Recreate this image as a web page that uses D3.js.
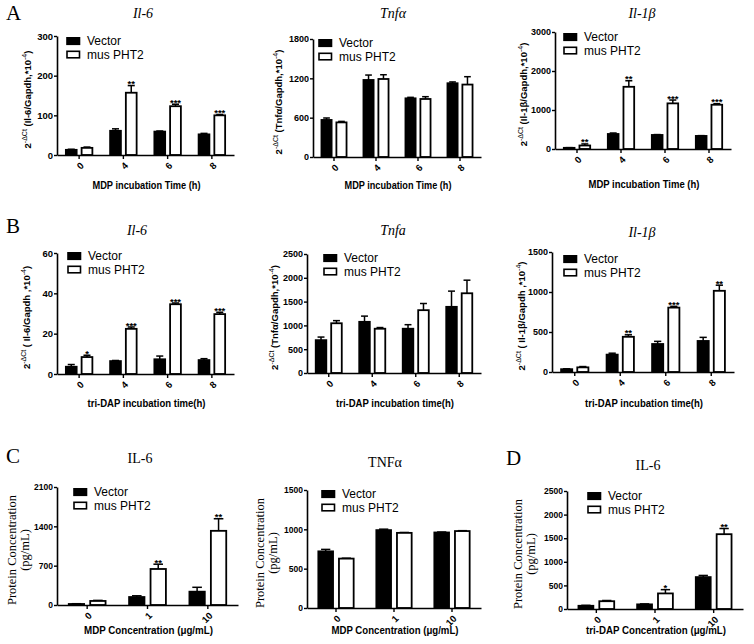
<!DOCTYPE html>
<html><head><meta charset="utf-8">
<script src="https://cdn.jsdelivr.net/npm/d3@7/dist/d3.min.js"></script>
<style>body{margin:0;background:#fff}</style>
</head><body><svg id="c" width="754" height="644" xmlns="http://www.w3.org/2000/svg"></svg>
<script>
// ---------- DATA ----------
const timeGroups = ["0", "4", "6", "8"];
const concGroups = ["0", "1", "10"];
const seriesNames = ["Vector", "mus PHT2"];

// Panel A: MDP incubation time (qPCR)
const aIl6Vector = [13, 61, 59, 52];
const aIl6VectorErr = [1.5, 5, 1.5, 2.5];
const aIl6Pht2 = [18, 157, 123, 100];
const aIl6Pht2Err = [2, 18, 5, 2];
const aIl6Sig = ["", "**", "***", "***"];

const aTnfVector = [565, 1175, 895, 1125];
const aTnfVectorErr = [30, 75, 15, 20];
const aTnfPht2 = [528, 1190, 885, 1105];
const aTnfPht2Err = [15, 65, 35, 120];
const aTnfSig = ["", "", "", ""];

const aIl1bVector = [30, 385, 360, 335];
const aIl1bVectorErr = [5, 25, 10, 8];
const aIl1bPht2 = [90, 1595, 1170, 1135];
const aIl1bPht2Err = [40, 155, 85, 25];
const aIl1bSig = ["**", "**", "***", "***"];

// Panel B: tri-DAP incubation time (qPCR)
const bIl6Vector = [3.6, 6.4, 7.3, 6.9];
const bIl6VectorErr = [1.1, 0.3, 1.6, 0.7];
const bIl6Pht2 = [8.4, 22.4, 34.6, 29.7];
const bIl6Pht2Err = [0.9, 0.9, 0.6, 0.9];
const bIl6Sig = ["*", "***", "***", "***"];

const bTnfVector = [690, 1075, 930, 1390];
const bTnfVectorErr = [65, 120, 85, 330];
const bTnfPht2 = [1045, 930, 1320, 1675];
const bTnfPht2Err = [55, 25, 140, 275];
const bTnfSig = ["", "", "", ""];

const bIl1bVector = [35, 217, 350, 388];
const bIl1bVectorErr = [5, 18, 33, 45];
const bIl1bPht2 = [58, 440, 805, 1015];
const bIl1bPht2Err = [10, 25, 15, 70];
const bIl1bSig = ["", "**", "***", "**"];

// Panel C: MDP concentration (protein)
const cIl6Vector = [18, 142, 237];
const cIl6VectorErr = [5, 22, 78];
const cIl6Pht2 = [72, 641, 1320];
const cIl6Pht2Err = [10, 85, 215];
const cIl6Sig = ["", "**", "**"];

const cTnfVector = [720, 990, 960];
const cTnfVectorErr = [25, 12, 6];
const cTnfPht2 = [628, 955, 978];
const cTnfPht2Err = [5, 5, 5];
const cTnfSig = ["", "", ""];

// Panel D: tri-DAP concentration (protein)
const dIl6Vector = [68, 98, 676];
const dIl6VectorErr = [10, 10, 35];
const dIl6Pht2 = [165, 330, 1585];
const dIl6Pht2Err = [15, 80, 120];
const dIl6Sig = ["", "*", "**"];

// Axis tick values
const ticksAIl6 = [0, 100, 200, 300];
const ticksATnf = [0, 600, 1200, 1800];
const ticksAIl1b = [0, 1000, 2000, 3000];
const ticksBIl6 = [0, 20, 40, 60];
const ticksBTnf = [0, 500, 1000, 1500, 2000, 2500];
const ticksBIl1b = [0, 500, 1000, 1500];
const ticksCIl6 = [0, 700, 1400, 2100];
const ticksCTnf = [0, 500, 1000, 1500];
const ticksDIl6 = [0, 500, 1000, 1500, 2000, 2500];

// ---------- DRAW ----------
const NARROW = "'Liberation Sans Narrow','Arial Narrow','Liberation Sans',Arial,sans-serif";
const SANS = "'Liberation Sans',Arial,sans-serif";
const SERIF = "'Liberation Serif','Times New Roman',serif";
const svg = d3.select("#c");
svg.append("rect").attr("width", 754).attr("height", 644).attr("fill", "#fff");

function qpcrLabel(inner) {
  return [["2", 0], ["-\u0394Ct", 1], [" (" + inner + ",*10", 0], ["-4", 1], [")", 0]];
}

const panels = [
  {letter: "A", lx: 6, ly: 20, title: "Il-6", italic: true, tx: 143, ty: 18,
   x0: 57, x1: 234, yTop: 36, yBot: 155, ticks: ticksAIl6, groups: timeGroups, tickFs: 9.5,
   v: aIl6Vector, ve: aIl6VectorErr, w: aIl6Pht2, we: aIl6Pht2Err, sig: aIl6Sig,
   ylab: qpcrLabel("Il-6/Gapdh"), ylx: 31, xt: "MDP incubation Time (h)", xtY: 189, xtW: 108, legX: 66, legY: 37},
  {title: "Tnf\u03b1", italic: true, tx: 393, ty: 18,
   x0: 313, x1: 481, yTop: 39, yBot: 157, ticks: ticksATnf, groups: timeGroups, tickFs: 9,
   v: aTnfVector, ve: aTnfVectorErr, w: aTnfPht2, we: aTnfPht2Err, sig: aTnfSig,
   ylab: qpcrLabel("Tnf\u03b1/Gapdh"), ylx: 282, xt: "MDP incubation Time (h)", xtY: 189, xtW: 107, legX: 318, legY: 39},
  {title: "Il-1\u03b2", italic: true, tx: 642, ty: 18,
   x0: 555, x1: 731, yTop: 32, yBot: 149, ticks: ticksAIl1b, groups: timeGroups, tickFs: 9,
   v: aIl1bVector, ve: aIl1bVectorErr, w: aIl1bPht2, we: aIl1bPht2Err, sig: aIl1bSig,
   ylab: qpcrLabel("Il-1\u03b2/Gapdh"), ylx: 527, xt: "MDP incubation Time (h)", xtY: 188, xtW: 111, legX: 563, legY: 33},

  {letter: "B", lx: 6, ly: 233, title: "Il-6", italic: true, tx: 137, ty: 235,
   x0: 57, x1: 234, yTop: 253, yBot: 374, ticks: ticksBIl6, groups: timeGroups, tickFs: 9.5,
   v: bIl6Vector, ve: bIl6VectorErr, w: bIl6Pht2, we: bIl6Pht2Err, sig: bIl6Sig,
   ylab: qpcrLabel(" Il-6/Gapdh "), ylx: 30, xt: "tri-DAP incubation time(h)", xtY: 407, xtW: 118, legX: 67, legY: 252},
  {title: "Tnfa", italic: true, tx: 393, ty: 235,
   x0: 307, x1: 481, yTop: 254, yBot: 373, ticks: ticksBTnf, groups: timeGroups, tickFs: 9,
   v: bTnfVector, ve: bTnfVectorErr, w: bTnfPht2, we: bTnfPht2Err, sig: bTnfSig,
   ylab: qpcrLabel("Tnf\u03b1/Gapdh"), ylx: 278, xt: "tri-DAP incubation time(h)", xtY: 407, xtW: 118, legX: 323, legY: 254},
  {title: "Il-1\u03b2", italic: true, tx: 642, ty: 237,
   x0: 552, x1: 734, yTop: 252, yBot: 372, ticks: ticksBIl1b, groups: timeGroups, tickFs: 9,
   v: bIl1bVector, ve: bIl1bVectorErr, w: bIl1bPht2, we: bIl1bPht2Err, sig: bIl1bSig,
   ylab: qpcrLabel(" Il-1\u03b2/Gapdh "), ylx: 525, xt: "tri-DAP incubation time(h)", xtY: 407, xtW: 118, legX: 563, legY: 255},

  {letter: "C", lx: 6, ly: 463, title: "IL-6", italic: false, tx: 140, ty: 463,
   x0: 57, x1: 238, yTop: 487, yBot: 605, ticks: ticksCIl6, groups: concGroups, tickFs: 8.5,
   v: cIl6Vector, ve: cIl6VectorErr, w: cIl6Pht2, we: cIl6Pht2Err, sig: cIl6Sig,
   protein: [12, 25], xt: "MDP Concentration (\u03bcg/mL)", xtY: 634, xtW: 129, legX: 73, legY: 488},
  {title: "TNF\u03b1", italic: false, tx: 385, ty: 467,
   x0: 307, x1: 481, yTop: 490, yBot: 608, ticks: ticksCTnf, groups: concGroups, tickFs: 8.5,
   v: cTnfVector, ve: cTnfVectorErr, w: cTnfPht2, we: cTnfPht2Err, sig: cTnfSig,
   protein: [260, 273], xt: "MDP Concentration (\u03bcg/mL)", xtY: 634, xtW: 127, legX: 321, legY: 490},
  {letter: "D", lx: 506, ly: 465, title: "IL-6", italic: false, tx: 648, ty: 470,
   x0: 567, x1: 743, yTop: 491, yBot: 609, ticks: ticksDIl6, groups: concGroups, tickFs: 8.5,
   v: dIl6Vector, ve: dIl6VectorErr, w: dIl6Pht2, we: dIl6Pht2Err, sig: dIl6Sig,
   protein: [518, 531], xt: "tri-DAP Concentration (\u03bcg/mL)", xtY: 634, xtW: 140, legX: 587, legY: 492}
];

function drawPanel(p) {
  const g = svg.append("g");
  const y = d3.scaleLinear().domain([0, d3.max(p.ticks)]).range([p.yBot, p.yTop]);
  const x = d3.scaleBand().domain(p.groups).range([p.x0, p.x1]).paddingInner(0.36).paddingOuter(0.18);
  const xs = d3.scaleBand().domain(seriesNames).range([0, x.bandwidth()]).paddingInner(0.2);

  if (p.letter) g.append("text").attr("x", p.lx).attr("y", p.ly).attr("font-family", SERIF)
    .attr("font-size", 21).text(p.letter);
  g.append("text").attr("x", p.tx).attr("y", p.ty).attr("text-anchor", "middle")
    .attr("font-family", SERIF).attr("font-size", 14).attr("font-style", p.italic ? "italic" : "normal")
    .text(p.title);

  const rows = p.groups.map((grp, i) => ({grp, vals: [
    {s: seriesNames[0], v: p.v[i], e: p.ve[i], sig: ""},
    {s: seriesNames[1], v: p.w[i], e: p.we[i], sig: p.sig[i]}]}));
  const gg = g.selectAll("g.grp").data(rows).join("g")
    .attr("transform", d => `translate(${x(d.grp)},0)`);
  const bw = xs.bandwidth();
  gg.selectAll("line.eb").data(d => d.vals).join("line")
    .attr("x1", d => xs(d.s) + bw / 2).attr("x2", d => xs(d.s) + bw / 2)
    .attr("y1", d => y(d.v)).attr("y2", d => y(d.v + d.e))
    .attr("stroke", "#000").attr("stroke-width", 1.5);
  gg.selectAll("line.cap").data(d => d.vals).join("line")
    .attr("x1", d => xs(d.s) + bw * 0.22).attr("x2", d => xs(d.s) + bw * 0.78)
    .attr("y1", d => y(d.v + d.e)).attr("y2", d => y(d.v + d.e))
    .attr("stroke", "#000").attr("stroke-width", 1.5);
  gg.selectAll("rect").data(d => d.vals).join("rect")
    .attr("x", d => xs(d.s) + 0.9).attr("width", bw - 1.8)
    .attr("y", d => y(d.v)).attr("height", d => Math.max(0, y(0) - y(d.v)))
    .attr("fill", d => d.s === seriesNames[0] ? "#000" : "#fff")
    .attr("stroke", "#000").attr("stroke-width", 1.8);
  gg.selectAll("text.sig").data(d => d.vals.filter(v => v.sig)).join("text")
    .attr("x", d => xs(d.s) + bw / 2).attr("y", d => y(d.v + d.e) + 1.5)
    .attr("text-anchor", "middle").attr("font-family", SANS).attr("font-weight", "bold")
    .attr("font-size", 9.5).text(d => d.sig);

  const yAx = g.append("g").attr("transform", `translate(${p.x0},0)`)
    .call(d3.axisLeft(y).tickValues(p.ticks).tickSize(3).tickSizeOuter(0).tickPadding(1).tickFormat(d3.format("d")));
  const xAx = g.append("g").attr("transform", `translate(0,${p.yBot})`)
    .call(d3.axisBottom(x).tickSize(4).tickSizeOuter(0).tickFormat(""));
  [yAx, xAx].forEach(a => {
    a.select(".domain").attr("stroke-width", 1.6);
    a.selectAll(".tick line").attr("stroke-width", 1.4);
  });
  yAx.selectAll("text").attr("font-family", SANS).attr("font-weight", "bold").attr("font-size", p.tickFs)
    .attr("fill", "#000");
  g.selectAll("text.xl").data(p.groups).join("text")
    .attr("transform", d => `translate(${x(d) + x.bandwidth() / 2 + 3},${p.yBot + 9}) rotate(-45)`)
    .attr("text-anchor", "end").attr("dy", "0.35em")
    .attr("font-family", SANS).attr("font-weight", "bold").attr("font-size", 9.5).text(d => d);

  g.append("text").attr("x", (p.x0 + p.x1) / 2 + 1).attr("y", p.xtY).attr("text-anchor", "middle")
    .attr("font-family", NARROW).attr("font-weight", "bold").attr("font-size", 11.5)
    .attr("textLength", p.xtW).attr("lengthAdjust", "spacingAndGlyphs").text(p.xt);

  const cy = (p.yTop + p.yBot) / 2 + 4;
  if (p.protein) {
    ["Protein Concentration", "(pg/mL)"].forEach((t, i) => {
      g.append("text").attr("transform", `translate(${p.protein[i]},${cy}) rotate(-90)`)
        .attr("text-anchor", "middle").attr("dy", "0.35em")
        .attr("font-family", SERIF).attr("font-size", 12.5).text(t);
    });
  } else {
    const t = g.append("text").attr("transform", `translate(${p.ylx},${cy}) rotate(-90)`)
      .attr("text-anchor", "middle").attr("dy", "0.35em")
      .attr("font-family", SANS).attr("font-weight", "bold").attr("font-size", 9.5);
    let sup = 0;
    p.ylab.forEach(([s, isSup]) => {
      const dy = isSup && !sup ? -4 : (!isSup && sup ? 4 : 0);
      t.append("tspan").attr("dy", dy).attr("font-size", isSup ? 7 : 9.5)
        .attr("font-weight", isSup ? "normal" : "bold").text(s);
      sup = isSup;
    });
  }

  seriesNames.forEach((s, i) => {
    const ly = p.legY + i * 13.5;
    g.append("rect").attr("x", p.legX + 1).attr("y", ly + 0.8).attr("width", 12.5).attr("height", 6.5)
      .attr("fill", i === 0 ? "#000" : "#fff").attr("stroke", "#000").attr("stroke-width", 1.6);
    g.append("text").attr("x", p.legX + 21).attr("y", ly + 8).attr("font-family", NARROW)
      .attr("font-size", 12).text(s);
  });
}

panels.forEach(drawPanel);
</script>
</body></html>
